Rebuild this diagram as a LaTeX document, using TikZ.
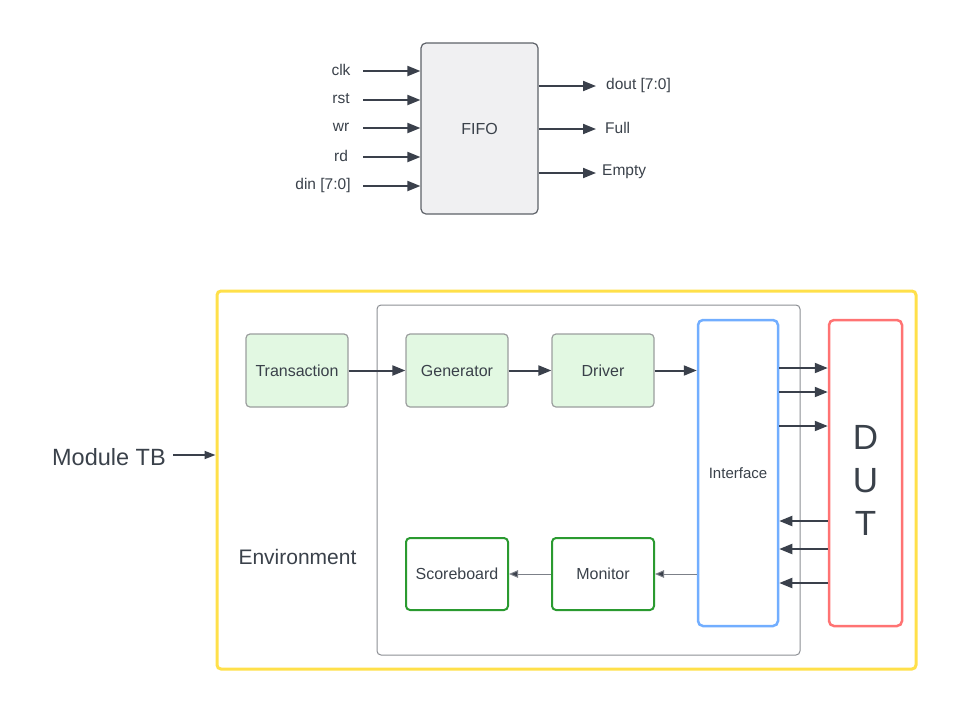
\documentclass[tikz,border=0pt]{standalone}
\usepackage{fontspec}
\setmainfont{Liberation Sans}
\usetikzlibrary{arrows.meta,calc}
\definecolor{txt}{HTML}{3A414A}
\definecolor{arrc}{HTML}{3A404B}
\definecolor{fifofill}{HTML}{F0F0F2}
\definecolor{fifoline}{HTML}{5E6269}
\definecolor{gfill}{HTML}{E2F8E2}
\definecolor{gline}{HTML}{9B9E9E}
\definecolor{yel}{HTML}{FFE04A}
\definecolor{envline}{HTML}{8C8F94}
\definecolor{blu}{HTML}{72AEFF}
\definecolor{redl}{HTML}{FF7373}
\definecolor{grn}{HTML}{2A9A30}
\definecolor{thinarr}{HTML}{7C8088}
\tikzset{
  lbl/.style={text=txt,font=\fontsize{15.5}{17}\selectfont,inner sep=0pt},
  arr/.style={draw=arrc,line width=2pt,-{Triangle[length=13pt,width=10pt]}},
  tarr/.style={draw=thinarr,line width=1pt,-{Triangle[length=9pt,width=7.5pt,fill=arrc]}},
  gbox/.style={draw=gline,fill=gfill,line width=1.2pt,rounded corners=4pt,minimum width=102pt,minimum height=73pt,text=txt,font=\fontsize{16}{18}\selectfont},
  mbox/.style={draw=grn,line width=2pt,rounded corners=4pt,minimum width=102pt,minimum height=72pt,text=txt,font=\fontsize{16}{18}\selectfont},
}
\begin{document}
\begin{tikzpicture}[x=1pt,y=-1pt]
\useasboundingbox (0,0) rectangle (961,713);
% FIFO
\node[draw=fifoline,fill=fifofill,line width=1.2pt,rounded corners=5pt,minimum width=117pt,minimum height=171pt,text=txt,font=\fontsize{16}{18}\selectfont] (fifo) at (479.5,128.5) {FIFO};
\node[lbl] (lclk) at (341,70) {clk};
\node[lbl] (lrst) at (341,99) {rst};
\node[lbl] (lwr) at (341,127) {wr};
\node[lbl] (lrd) at (341,156) {rd};
\node[lbl] (ldin) at (323,185) {din [7:0]};
\coordinate (sclk) at (363,71);
\coordinate (srst) at (363,100);
\coordinate (swr) at (363,128);
\coordinate (srd) at (363,157);
\coordinate (sdin) at (363,186);
\draw[arr] (sclk) -- (fifo.west |- sclk);
\draw[arr] (srst) -- (fifo.west |- srst);
\draw[arr] (swr) -- (fifo.west |- swr);
\draw[arr] (srd) -- (fifo.west |- srd);
\draw[arr] (sdin) -- (fifo.west |- sdin);
\node[lbl,anchor=west] (ldout) at (606,85) {dout [7:0]};
\node[lbl,anchor=west] (lfull) at (605,128) {Full};
\node[lbl,anchor=west] (lempty) at (602,172) {Empty};
\draw[arr] (fifo.east |- 0,86) -- (596,86);
\draw[arr] (fifo.east |- 0,129) -- (596,129);
\draw[arr] (fifo.east |- 0,173) -- (596,173);
% Testbench
\node[draw=yel,line width=3pt,rounded corners=4pt,minimum width=699pt,minimum height=378pt] (tb) at (566.5,480) {};
\node[draw=envline,line width=1pt,rounded corners=4pt,minimum width=423pt,minimum height=350pt] (env) at (588.5,480) {};
\node[gbox] (trans) at (297,370.5) {Transaction};
\node[gbox] (gen) at (457,370.5) {Generator};
\node[gbox] (drv) at (603,370.5) {Driver};
\node[draw=blu,line width=2.5pt,rounded corners=5pt,minimum width=80pt,minimum height=306pt,text=txt,font=\fontsize{15}{17}\selectfont] (iface) at (738,473) {Interface};
\node[draw=redl,line width=2.5pt,rounded corners=5pt,minimum width=73pt,minimum height=306pt] (dut) at (865.5,473) {};
\node[text=txt,font=\fontsize{35}{43}\selectfont,align=center,inner sep=0pt] (dutt) at (865.5,480) {D\\U\\T};
\node[mbox] (score) at (457,574) {Scoreboard};
\node[mbox] (mon) at (603,574) {Monitor};
\draw[arr] (trans.east) -- (gen.west);
\draw[arr] (gen.east) -- (drv.west);
\draw[arr] (drv.east) -- (iface.west |- drv.east);
\foreach \yy in {368,392,426}{\draw[arr] (iface.east |- 0,\yy) -- (dut.west |- 0,\yy);}
\foreach \yy in {521,549,583}{\draw[arr] (dut.west |- 0,\yy) -- (iface.east |- 0,\yy);}
\draw[tarr] (iface.west |- mon.east) -- (mon.east);
\draw[tarr] (mon.west) -- (score.east);
\node[text=txt,font=\fontsize{21}{25}\selectfont,inner sep=0pt] (envl) at (297.5,557) {Environment};
\node[text=txt,font=\fontsize{23.5}{28}\selectfont,inner sep=0pt,anchor=east] (mtb) at (166,457) {Module TB};
\draw[draw=arrc,line width=1.8pt,-{Triangle[length=11pt,width=8pt]}] (173,455) -- (tb.west |- 0,455);
\end{tikzpicture}
\end{document}
